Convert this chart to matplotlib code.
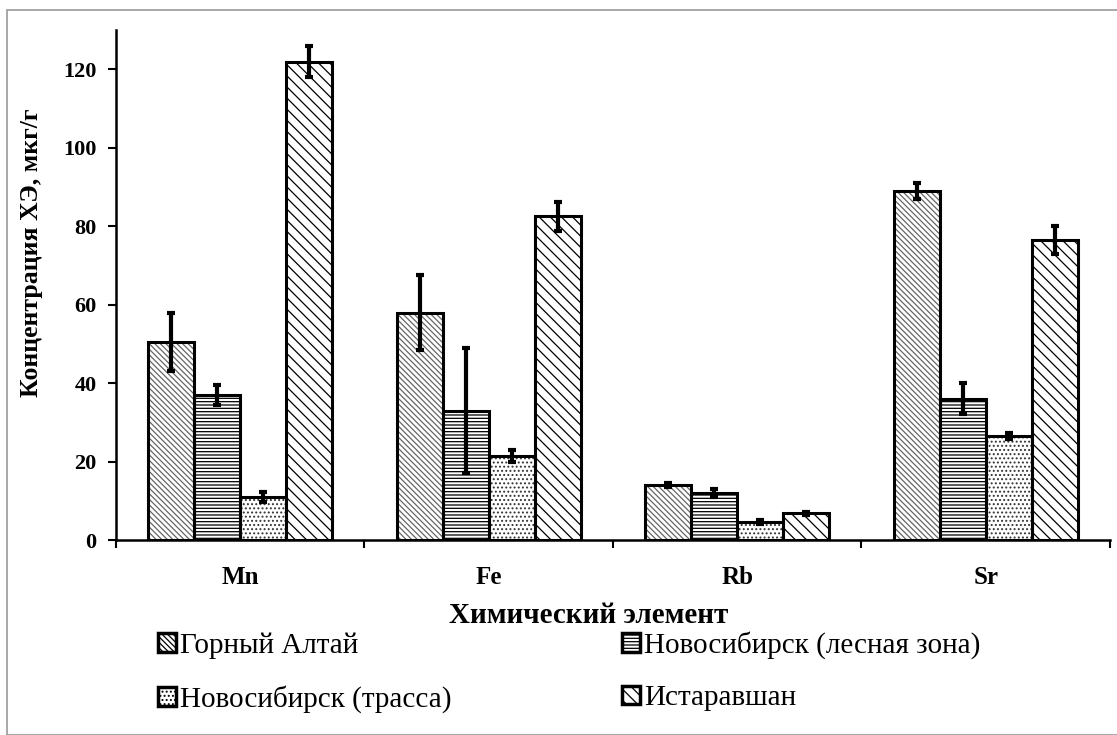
import numpy as np
import matplotlib.pyplot as plt
from matplotlib.patches import Rectangle

plt.rcParams['font.family'] = ['Liberation Serif', 'DejaVu Serif']
plt.rcParams['hatch.linewidth'] = 0.9

# ===== данные =====
elements = ["Mn", "Fe", "Rb", "Sr"]
series = ["Горный Алтай", "Новосибирск (лесная зона)",
          "Новосибирск (трасса)", "Истаравшан"]
altai = [50.5, 58.0, 14.0, 89.0]
altai_err = [7.5, 9.5, 0.5, 2.0]
nsk_forest = [37.0, 33.0, 12.0, 36.0]
nsk_forest_err = [2.5, 16.0, 1.0, 4.0]
nsk_road = [11.0, 21.5, 4.7, 26.5]
nsk_road_err = [1.3, 1.5, 0.5, 0.7]
istar = [122.0, 82.5, 6.8, 76.5]
istar_err = [4.0, 3.8, 0.4, 3.5]

values = [altai, nsk_forest, nsk_road, istar]
errors = [altai_err, nsk_forest_err, nsk_road_err, istar_err]
hatches = ["\\\\\\\\\\\\", "-----", "....", "\\\\\\"]
hatch_colors = ["#666666", "black", "#333333", "black"]

fig = plt.figure(figsize=(11.17, 7.35), dpi=100)
ax = fig.add_axes([0.1038, 0.2653, 0.8899, 0.6937])

x = np.arange(len(elements))
width = 0.185
handles = []
for i, (vals, errs) in enumerate(zip(values, errors)):
    pos = x + (i - 1.5) * width
    bars = ax.bar(pos, vals, width, facecolor="white", edgecolor=hatch_colors[i],
                  hatch=hatches[i], linewidth=0, label=series[i], zorder=2)
    # чёрный контур поверх штриховки
    ax.bar(pos, vals, width, facecolor="none", edgecolor="black", linewidth=2.2, zorder=3)
    ax.errorbar(pos, vals, yerr=errs, fmt="none", ecolor="black", elinewidth=3,
                capsize=2.8, capthick=3, zorder=4)
    handles.append(bars)

ax.set_xlim(-0.5, len(elements) - 0.5)
ax.set_ylim(0, 130)
ax.set_yticks(np.arange(0, 121, 20))
ax.set_xticks(x)
ax.set_xticklabels(elements)
ax.set_xticks(np.arange(-0.5, len(elements), 1.0), minor=True)
ax.tick_params(axis="x", which="major", length=0, pad=19, labelsize=18)
ax.tick_params(axis="x", which="minor", length=6, width=1.5, direction="out")
ax.tick_params(axis="y", length=6, width=1.5, direction="out", labelsize=16, pad=8)
for lab in ax.get_xticklabels() + ax.get_yticklabels():
    lab.set_fontweight("bold")

for s in ["top", "right"]:
    ax.spines[s].set_visible(False)
for s in ["left", "bottom"]:
    ax.spines[s].set_linewidth(1.8)

ax.set_ylabel("Концентрация ХЭ, мкг/г", fontsize=18.5, fontweight="bold")
ax.yaxis.set_label_coords(-0.073, 0.563)
ax.set_xlabel("Химический элемент", fontsize=21, fontweight="bold")
ax.xaxis.set_label_coords(0.476, -0.122)

order = [0, 2, 1, 3]
leg = fig.legend([handles[k] for k in order], [series[k] for k in order],
                 ncol=2, loc="upper left", bbox_to_anchor=(0.1415, 0.141),
                 frameon=False, fontsize=21, handlelength=0.6, handleheight=0.6,
                 handletextpad=0.15, columnspacing=5.85, labelspacing=0.9,
                 borderpad=0, borderaxespad=0)
for p in leg.get_patches():
    p.set_linewidth(2.5)
    p.set_edgecolor("black")

fig.patches.append(Rectangle((0.006, 0.0), 1.1, 0.986, transform=fig.transFigure,
                             fill=False, edgecolor="#999999", linewidth=1.2))

fig.savefig("out.png", dpi=100)
